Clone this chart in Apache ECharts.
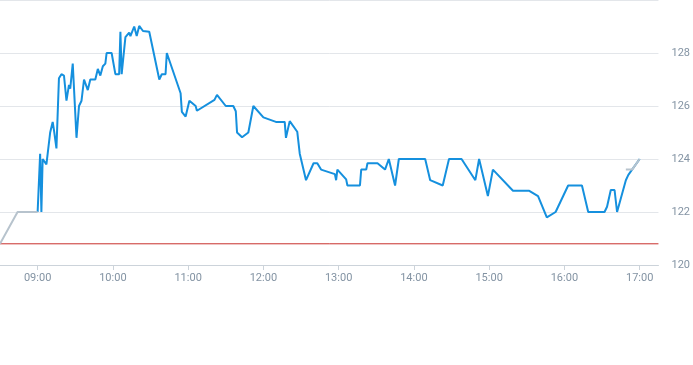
<!DOCTYPE html>
<html>
<head>
<meta charset="utf-8">
<script src="https://cdn.jsdelivr.net/npm/echarts@6/dist/echarts.min.js"></script>
<style>html,body{margin:0;padding:0;background:#fff}#c{width:693px;height:365px}</style>
</head>
<body>
<div id="c"></div>
<script>
// Price (blue) line
const priceTimes = ["09:00","09:02","09:03","09:04","09:07","09:10","09:12","09:13","09:15","09:17","09:19","09:21","09:23","09:25","09:26","09:28","09:31","09:33","09:35","09:37","09:40","09:42","09:46","09:48","09:50","09:52","09:54","09:55","09:59","10:02","10:05","10:06","10:07","10:10","10:11","10:13","10:14","10:17","10:19","10:21","10:24","10:29","10:37","10:39","10:42","10:43","10:54","10:55","10:58","11:01","11:06","11:07","11:21","11:23","11:30","11:36","11:38","11:39","11:43","11:48","11:52","12:00","12:10","12:17","12:18","12:21","12:27","12:29","12:34","12:40","12:43","12:46","12:57","12:58","12:59","13:06","13:07","13:17","13:18","13:22","13:23","13:31","13:37","13:40","13:45","13:48","14:09","14:13","14:23","14:28","14:38","14:49","14:52","14:54","14:59","15:03","15:19","15:32","15:39","15:46","15:53","16:03","16:14","16:19","16:32","16:34","16:37","16:40","16:42","16:49","16:51","17:00"];
const priceValues = [122.0,124.2,122.0,124.0,123.8,125.0,125.4,125.1,124.4,127.05,127.2,127.15,126.2,126.8,126.65,127.6,124.8,126.0,126.2,127.0,126.6,127.0,127.0,127.4,127.15,127.5,127.6,128.0,128.0,127.2,127.2,128.8,127.2,128.6,128.6,128.77,128.64,129.0,128.64,129.02,128.83,128.8,127.0,127.2,127.2,128.0,126.48,125.78,125.6,126.2,126.0,125.82,126.23,126.42,126.0,126.0,125.8,125.0,124.82,125.0,126.0,125.57,125.4,125.4,124.8,125.43,125.03,124.2,123.2,123.84,123.84,123.6,123.43,123.2,123.6,123.23,123.0,123.0,123.6,123.6,123.84,123.84,123.6,124.0,123.0,124.0,124.0,123.2,123.0,124.0,124.0,123.2,124.0,123.6,122.6,123.6,122.8,122.8,122.6,121.8,122.0,123.0,123.0,122.0,122.0,122.2,122.83,122.83,122.0,123.2,123.4,124.0];

// Gray (pre-open / average) line, null = gap
const grayTimes = ["08:30","08:44","09:00",null,"16:49","16:54","17:00"];
const grayValues = [120.8,122.0,122.0,null,123.6,123.6,124.0];

// Reference (previous close) level
const refLevel = 120.8;

// Axis
const xMinTime = "08:30";
const xMaxTime = "17:15";
const xTickTimes = ["09:00","10:00","11:00","12:00","13:00","14:00","15:00","16:00","17:00"];
const yMin = 120, yMax = 130, yStep = 2;

function toMin(s){ const p = s.split(":"); return (+p[0])*60 + (+p[1]); }
function fmt(m){ const h = Math.floor(m/60), mm = Math.round(m%60); return (h<10?"0":"")+h+":"+(mm<10?"0":"")+mm; }

const priceData = priceTimes.map((t,i)=>[toMin(t), priceValues[i]]);
const grayData = grayTimes.map((t,i)=> t===null ? [null,null] : [toMin(t), grayValues[i]]);
const refData = [[toMin(xMinTime), refLevel],[toMin(xMaxTime), refLevel]];
const ticks = xTickTimes.map(toMin);

const chart = echarts.init(document.getElementById('c'), null, {renderer:'canvas'});
chart.setOption({
  animation: false,
  backgroundColor: '#fff',
  grid: {left: 0, right: 28, top: -2, bottom: 100, containLabel: false},
  xAxis: {
    type: 'value',
    min: toMin(xMinTime), max: toMin(xMaxTime),
    axisLine: {show: true, lineStyle: {color: '#ccd3da', width: 1}},
    axisTick: {show: true, customValues: ticks, length: 5, lineStyle: {color: '#ccd3da'}},
    axisLabel: {customValues: ticks, formatter: v => fmt(v), color: '#8393a3', fontSize: 11, fontFamily: 'Roboto, sans-serif', margin: 8},
    splitLine: {show: false}
  },
  yAxis: {
    type: 'value', position: 'right',
    min: yMin, max: yMax, interval: yStep,
    axisLine: {show: false}, axisTick: {show: false},
    axisLabel: {color: '#8393a3', fontSize: 11, fontFamily: 'Roboto, sans-serif', margin: 13, showMaxLabel: false},
    splitLine: {show: true, lineStyle: {color: '#e3e6ea', width: 1}}
  },
  series: [
    {
      type: 'line', data: refData, showSymbol: false, symbol: 'none', silent: true,
      lineStyle: {color: '#c8302c', width: 1}, z: 2
    },
    {
      type: 'line', data: priceData, showSymbol: false, symbol: 'none',
      lineStyle: {color: '#1590de', width: 2}, z: 3
    },
    {
      type: 'line', data: grayData, showSymbol: false, symbol: 'none', connectNulls: false,
      lineStyle: {color: '#b7c3cd', width: 2}, z: 4
    }
  ]
});
</script>
</body>
</html>
